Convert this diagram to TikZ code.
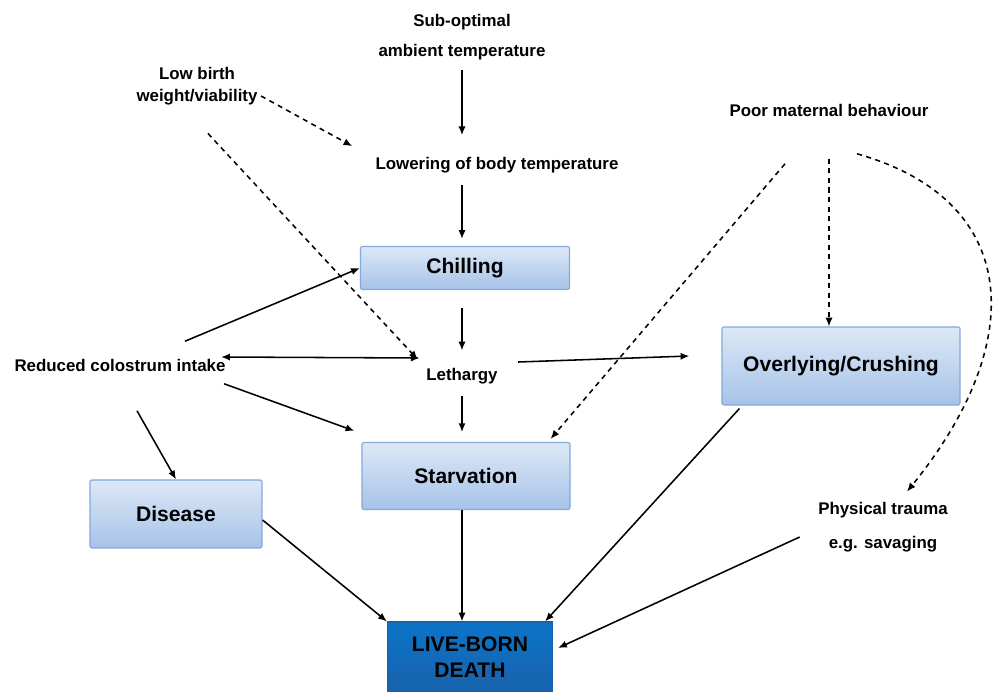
\documentclass[tikz,border=0pt]{standalone}
\usepackage{fontspec}
\setmainfont{Liberation Sans}
\usetikzlibrary{arrows.meta}
\definecolor{boxtop}{HTML}{DDE8F6}
\definecolor{boxbot}{HTML}{A6C3E8}
\definecolor{boxline}{HTML}{84A9DA}
\definecolor{deathtop}{HTML}{0C74C8}
\definecolor{deathbot}{HTML}{1862AC}

\begin{document}
\begin{tikzpicture}[
    x=0.025cm, y=0.025cm,
    >={Latex[length=2.2mm,width=1.8mm]},
    line width=1.1pt,
    lbl/.style={font=\bfseries\fontsize{12}{21}\selectfont, align=center, inner sep=2pt},
    box/.style={draw=boxline, line width=0.8pt, rounded corners=1.5pt, top color=boxtop, bottom color=boxbot, font=\bfseries\fontsize{15}{18}\selectfont, align=center},
    dead/.style={draw=deathbot, line width=0.8pt, top color=deathtop, bottom color=deathbot, font=\bfseries\fontsize{15}{18}\selectfont, align=center, minimum width=4.125cm, minimum height=1.75cm},
    dashline/.style={dash pattern=on 3.6pt off 3.2pt}
]
    \useasboundingbox (0,-692) rectangle (996,0);

    % Nodes
    \node[lbl] (sub) at (462,-37) {Sub-optimal\\ambient temperature};
    \node[lbl, font=\bfseries\fontsize{12}{16}\selectfont] (low) at (197,-86) {Low birth\\weight/viability};
    \node[lbl] (poor) at (829,-110) {Poor maternal behaviour};
    \node[lbl] (lower) at (497,-165) {Lowering of body temperature};
    \node[box, minimum width=5.225cm, minimum height=1.075cm] (chill) at (465,-268) {Chilling};
    \node[lbl] (leth) at (462,-376) {Lethargy};
    \node[lbl] (reduced) at (120,-365) {Reduced colostrum intake};
    \node[box, minimum width=5.95cm, minimum height=1.95cm] (over) at (841,-366) {Overlying/Crushing};
    \node[box, minimum width=5.2cm, minimum height=1.675cm] (starv) at (466,-476) {Starvation};
    \node[box, minimum width=4.3cm, minimum height=1.7cm] (dis) at (176,-514) {Disease};
    \node[lbl, font=\bfseries\fontsize{12}{24}\selectfont] (trauma) at (883,-527) {Physical trauma\\e.g. savaging};
    \node[dead] (death) at (470,-657) {LIVE-BORN\\DEATH};

    % Arrows
    \draw[->, shorten <=5pt, shorten >=13pt] (sub.south) -- (sub.south |- lower.north);
    \draw[->, dashline, shorten >=16pt] ([yshift=-0.25cm]low.east) -- ([yshift=0.2cm]lower.west);
    \draw[->, shorten <=6pt, shorten >=5pt] (sub.south |- lower.south) -- (sub.south |- chill.north);
    \draw[->, dashline, shorten <=24pt] ([xshift=-0.3cm]low.south) -- ([shift={(-5,5)}]leth.north west);
    \draw[->, shorten <=13pt, shorten >=10pt] (sub.south |- chill.south) -- (sub.south |- leth.north);
    \draw[->] ([shift={(65,14)}]reduced.north) -- (chill.west);
    \draw[<->] ([shift={(-8,8)}]reduced.east) -- ([shift={(-3,18)}]leth.west);
    \draw[->] ([shift={(17,14)}]leth.east) -- ([shift={(-32,10)}]over.west);
    \draw[->, shorten <=6pt, shorten >=7pt] (sub.south |- leth.south) -- (sub.south |- starv.north);
    \draw[->] ([shift={(-5,-9)}]reduced.south east) -- ([shift={(-7,11)}]starv.north west);
    \draw[->] ([shift={(17,-36)}]reduced.south) -- (dis.north);
    \draw[->, dashline] ([shift={(-44,-44)}]poor.south) -- ([shift={(-20,3)}]starv.north east);
    \draw[->, dashline] ([yshift=-0.975cm]poor.south) -- (poor.south |- over.north);
    \draw[->, dashline] ([shift={(28,-34)}]poor.south) .. controls (1020,-200) and (1030,-340) .. ([shift={(24,7)}]trauma.north);
    \draw[->] ([yshift=-0.15cm]dis.east) -- (death.north west);
    \draw[->] (sub.south |- starv.south) -- (sub.south |- death.north);
    \draw[->] ([shift={(18,-3)}]over.south west) -- ([xshift=-0.2cm]death.north east);
    \draw[->] ([shift={(-15,-10)}]trauma.west) -- ([shift={(5,9)}]death.east);
\end{tikzpicture}
\end{document}
